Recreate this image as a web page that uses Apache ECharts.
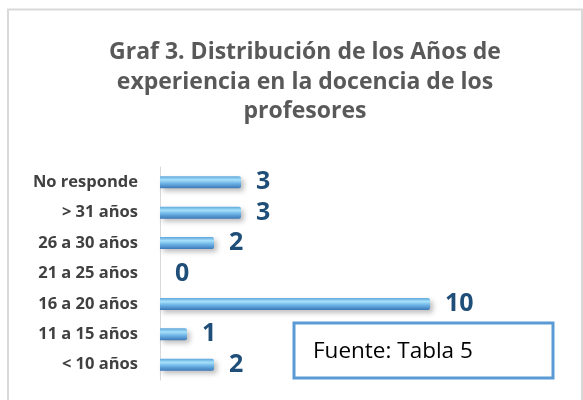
<!DOCTYPE html>
<html>
<head>
<meta charset="utf-8">
<script src="https://cdn.jsdelivr.net/npm/echarts@6/dist/echarts.min.js"></script>
<style>
  html, body { margin: 0; padding: 0; background: #fff; }
  #chart { width: 583px; height: 400px; }
</style>
</head>
<body>
<div id="chart"></div>
<script>
// categories from top to bottom as in the picture
const categories = ["No responde", "> 31 años", "26 a 30 años", "21 a 25 años", "16 a 20 años", "11 a 15 años", "< 10 años"];
const values = [3, 3, 2, 0, 10, 1, 2];
const titleText = "Graf 3. Distribución de los Años de\nexperiencia en la docencia de los\nprofesores";
const sourceText = "Fuente: Tabla 5";

const chart = echarts.init(document.getElementById("chart"));

const option = {
  backgroundColor: "#ffffff",
  animation: false,
  title: {
    text: titleText,
    left: 300,
    textAlign: "center",
    top: 33,
    textStyle: {
      color: "#595959",
      fontSize: 23,
      fontWeight: "bold",
      fontFamily: "Open Sans",
      lineHeight: 29.5,
    },
  },
  grid: {
    left: 160,
    right: 153,
    top: 167,
    bottom: 20,
    containLabel: false,
  },
  xAxis: {
    type: "value",
    min: 0,
    max: 10,
    show: false,
  },
  yAxis: {
    type: "category",
    inverse: true,
    data: categories,
    axisLine: { show: true, lineStyle: { color: "#d9d9d9", width: 1 } },
    axisTick: { show: false },
    axisLabel: {
      color: "#404040",
      fontWeight: "bold",
      fontSize: 16.5,
      fontFamily: "Open Sans",
      margin: 22,
    },
  },
  series: [
    {
      type: "bar",
      data: values,
      barWidth: 12,
      itemStyle: {
        color: new echarts.graphic.LinearGradient(0, 0, 0, 1, [
          { offset: 0, color: "#5fa6dc" },
          { offset: 0.3, color: "#a6e1fb" },
          { offset: 0.6, color: "#6db3e6" },
          { offset: 1, color: "#3b78b8" },
        ]),
        shadowColor: "rgba(0,0,0,0.25)",
        shadowBlur: 5,
        shadowOffsetX: 3,
        shadowOffsetY: 3,
        borderRadius: [0, 2, 2, 0],
      },
      label: {
        show: true,
        position: "right",
        distance: 15,
        color: "#1f4e79",
        fontSize: 25,
        fontWeight: "bold",
        fontFamily: "Open Sans",
      },
    },
  ],
  graphic: [
    {
      type: "rect",
      shape: { x: 8, y: 9.5, width: 574, height: 400 },
      style: { fill: null, stroke: "#d9d9d9", lineWidth: 2 },
      silent: true,
    },
    {
      type: "rect",
      shape: { x: 294, y: 323, width: 259, height: 55 },
      style: { fill: "#ffffff", stroke: "#5b9bd5", lineWidth: 3 },
      z: 10,
    },
    {
      type: "text",
      x: 313,
      y: 352,
      style: {
        text: sourceText,
        fill: "#000000",
        fontSize: 22.5,
        fontFamily: "Open Sans",
        textVerticalAlign: "middle",
      },
      z: 11,
    },
  ],
};

chart.setOption(option);
</script>
</body>
</html>
